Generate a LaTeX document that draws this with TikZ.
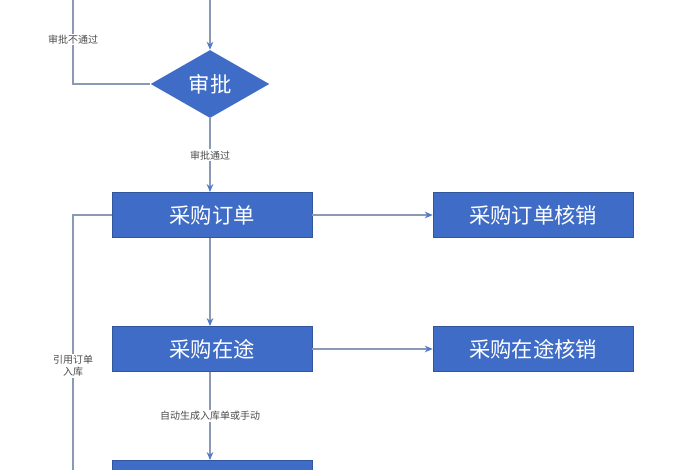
\documentclass[tikz,border=0pt]{standalone}
\usepackage{fontspec}
\newfontfamily\cjk{Noto Sans CJK SC}
\usetikzlibrary{arrows.meta, shapes.geometric}
\definecolor{boxblue}{HTML}{3F6CC6}
\definecolor{linegray}{HTML}{8A9AB5}
\tikzset{
	step box/.style={draw=boxblue!80!black, fill=boxblue, text=white, minimum width=150pt, minimum height=34pt, font=\cjk\fontsize{16}{16}\selectfont},
	check/.style={diamond, fill=boxblue, text=white, minimum width=89pt, minimum height=51pt, inner sep=0pt, aspect=1.7, font=\cjk\fontsize{16}{16}\selectfont},
	flow/.style={draw=linegray, line width=0.9pt, -{Stealth[length=6pt, width=5pt, color=boxblue!90]}},
	plain/.style={draw=linegray, line width=0.9pt},
	tag/.style={fill=white, inner sep=1pt, text=black!70, font=\cjk\fontsize{7.5}{9}\selectfont, align=center}
}
\begin{document}
\begin{tikzpicture}[x=0.75pt, y=-0.75pt]
	\useasboundingbox (0,0) rectangle (700,470);
	\begin{scope}
		\clip (0,0) rectangle (700,470);
		\coordinate (top)     at (210,-5);
		\coordinate (topleft) at (73,-5);
		\coordinate (bottomleft) at (73,475);

		\node[check]     (approve)  at (210,84)  {审批};
		\node[step box]  (order)    at (212,215) {采购订单};
		\node[step box]  (ordercv)  at (533,215) {采购订单核销};
		\node[step box]  (transit)  at (212,349) {采购在途};
		\node[step box]  (transcv)  at (533,349) {采购在途核销};
		\node[step box]  (stock)    at (212,483) {};

		\draw[flow]  (top) -- (approve.north);
		\draw[plain] (approve.west) -| (topleft) node[tag, pos=0.75] {审批不通过};
		\draw[flow]  (approve.south) -- (order.north -| approve.south) node[tag, midway] {审批通过};
		\draw[flow]  (order.south -| approve.south) -- (transit.north -| approve.south);
		\draw[flow]  (order.east) -- (ordercv.west);
		\draw[flow]  (transit.east) -- (transcv.west);
		\draw[flow]  (transit.south -| approve.south) -- (stock.north -| approve.south) node[tag, midway] {自动生成入库单或手动};
		\draw[plain] (order.west) -| (bottomleft) node[tag, pos=0.79] {引用订单\\入库};
	\end{scope}
\end{tikzpicture}
\end{document}
